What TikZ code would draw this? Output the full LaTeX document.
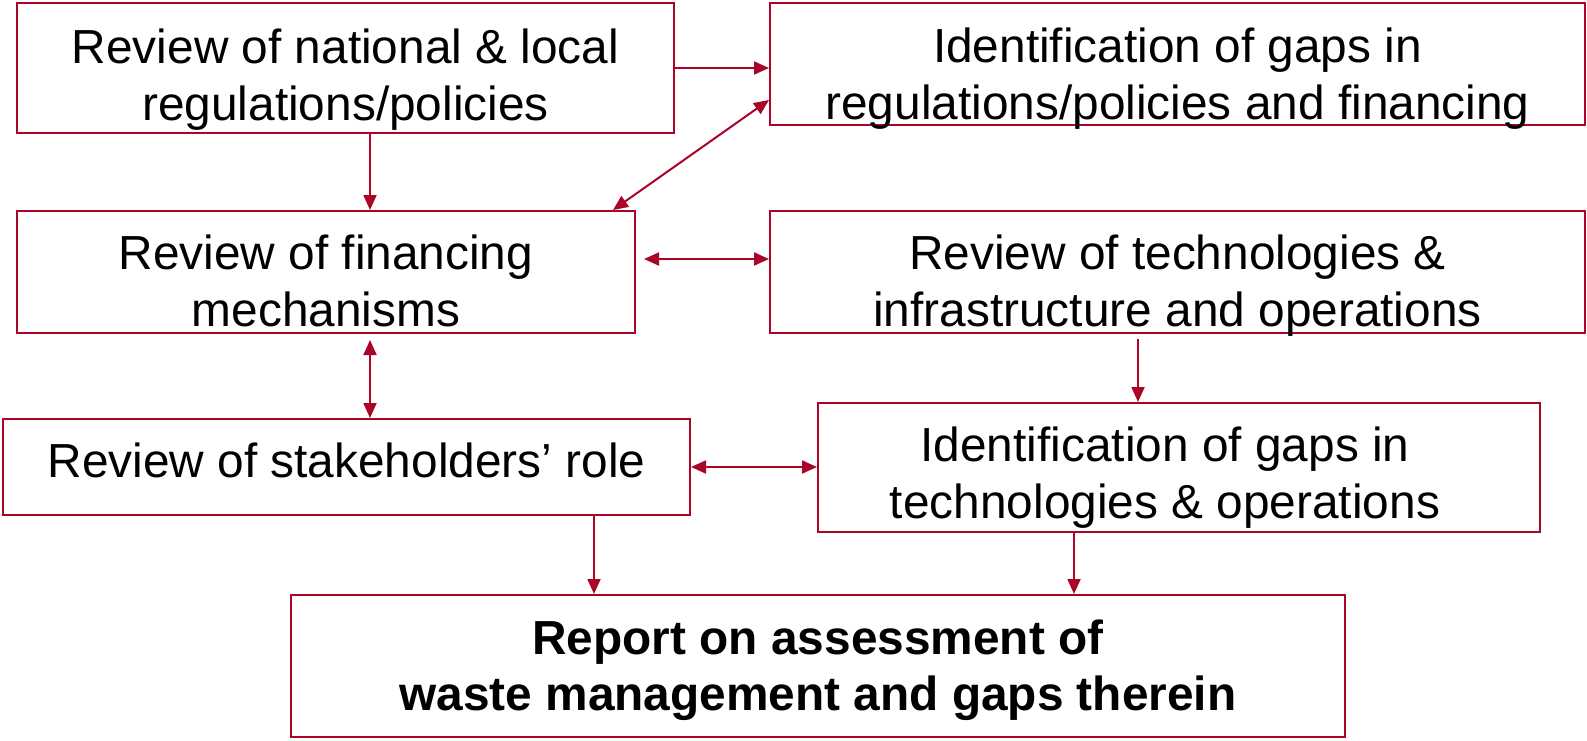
\documentclass[tikz,border=0pt]{standalone}
\usepackage{fontspec}
\setmainfont{Liberation Sans}
\usetikzlibrary{arrows.meta,calc}
\definecolor{boxred}{RGB}{170,5,40}
\tikzset{
  % Jarayon qutilari
  procbox/.style  = {draw=boxred, line width=2pt, fill=white, inner sep=0pt,
                     align=center, font=\fontsize{47.8}{57}\selectfont, text depth=0pt},
  reportbox/.style= {procbox, font=\fontsize{47.8}{56}\selectfont\bfseries},
  % Strelkalar
  flowarrow/.style= {-{Triangle[length=15pt,width=13pt]}, draw=boxred, fill=boxred, line width=2pt},
  twoarrow/.style = {{Triangle[length=15pt,width=13pt]}-{Triangle[length=15pt,width=13pt]},
                     draw=boxred, fill=boxred, line width=2pt},
}
\begin{document}
\begin{tikzpicture}[x=1pt,y=-1pt]
  \useasboundingbox (0,0) rectangle (1587,740);
  % Qutilar
  \node[procbox, minimum width=657pt, minimum height=130pt, text height=104pt] (natl) at (345.5,68)
    {Review of national \& local\\regulations/policies};
  \node[procbox, minimum width=815pt, minimum height=122pt, text height=110pt] (gapsreg) at (1177.5,64)
    {Identification of gaps in\\regulations/policies and financing};
  \node[procbox, minimum width=618pt, minimum height=122pt, text height=108pt] (fin) at (326,272)
    {Review of financing\\mechanisms};
  \node[procbox, minimum width=815pt, minimum height=122pt, text height=108pt] (tech) at (1177.5,272)
    {Review of technologies \&\\infrastructure and operations};
  \node[procbox, minimum width=687pt, minimum height=96pt, text height=35pt, text depth=14pt] (stake) at (346.5,467)
    {Review of stakeholders’ role};
  \node[procbox, minimum width=722pt, minimum height=129pt, text height=102pt] (gapstech) at (1179,467.5)
    {Identification of gaps in\hspace*{28pt}\\technologies \& operations\hspace*{28pt}};
  \node[reportbox, minimum width=1054pt, minimum height=142pt, text height=89pt] (report) at (818,666)
    {Report on assessment of\\waste management and gaps therein};
  % Bir tomonlama strelkalar
  \draw[flowarrow] (natl.east) -- (natl.east -| gapsreg.west);
  \draw[flowarrow] ([xshift=24.5pt]natl.south) -- ([xshift=24.5pt]natl.south |- fin.north);
  \draw[flowarrow] ([xshift=-39.5pt,yshift=-5pt]tech.south) -- ([xshift=-39.5pt]tech.south |- gapstech.north);
  \draw[flowarrow] ([xshift=247.5pt]stake.south) -- ([xshift=247.5pt]stake.south |- report.north);
  \draw[flowarrow] ([xshift=-105pt]gapstech.south) -- ([xshift=-105pt]gapstech.south |- report.north);
  % Ikki tomonlama strelkalar
  \draw[twoarrow] ([yshift=-36pt]gapsreg.west) -- ([xshift=-23pt]fin.north east);
  \draw[twoarrow] ([xshift=8pt,yshift=13pt]fin.east) -- ([yshift=13pt]fin.east -| tech.west);
  \draw[twoarrow] ([xshift=44pt,yshift=-6pt]fin.south) -- ([xshift=44pt]fin.south |- stake.north);
  \draw[twoarrow] (stake.east) -- (stake.east -| gapstech.west);
\end{tikzpicture}
\end{document}
